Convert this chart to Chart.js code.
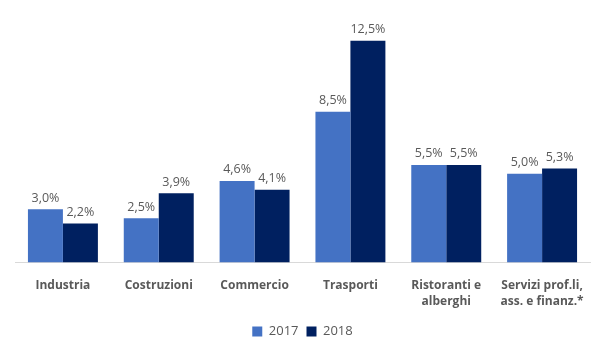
<!DOCTYPE html>
<html><head><meta charset="utf-8">
<script src="https://cdn.jsdelivr.net/npm/chart.js@4/dist/chart.umd.min.js"></script>
<style>html,body{margin:0;padding:0;background:#fff}#wrap{width:605px;height:353px}</style>
</head><body><div id="wrap"><canvas id="c" width="605" height="353"></canvas></div>
<script>
const categories = [["Industria"],["Costruzioni"],["Commercio"],["Trasporti"],["Ristoranti e","alberghi"],["Servizi prof.li,","ass. e finanz.*"]];
const seriesNames = ["2017","2018"];
const values2017 = [3.0, 2.5, 4.6, 8.5, 5.5, 5.0];
const values2018 = [2.2, 3.9, 4.1, 12.5, 5.5, 5.3];
const colors = ["#4472C4","#002060"];

const labelPlugin = {
  id:'vals',
  afterDatasetsDraw(chart){
    const ctx = chart.ctx;
    ctx.save();
    ctx.font = '12.5px "Open Sans", sans-serif';
    ctx.fillStyle = '#595959';
    ctx.textAlign = 'center';
    ctx.textBaseline = 'bottom';
    chart.data.datasets.forEach((ds,i)=>{
      chart.getDatasetMeta(i).data.forEach((bar,j)=>{
        ctx.fillText(ds.data[j].toFixed(1).replace('.',',')+'%', bar.x, bar.y-5);
      });
    });
    ctx.restore();
  }
};

new Chart(document.getElementById('c'),{
  type:'bar',
  data:{labels:categories,datasets:[
    {label:seriesNames[0],data:values2017,backgroundColor:colors[0]},
    {label:seriesNames[1],data:values2018,backgroundColor:colors[1]}
  ]},
  options:{
    responsive:false,animation:false,
    layout:{padding:{left:15,right:15,top:14,bottom:5}},
    datasets:{bar:{barPercentage:1,categoryPercentage:0.73}},
    scales:{
      y:{min:0,max:14,display:false},
      x:{grid:{display:false,drawTicks:false},border:{color:'#d9d9d9',width:1},
         afterFit:(s)=>{ s.height -= 8; },
         ticks:{color:'#595959',padding:15,font:{family:'"Open Sans", sans-serif',size:12,weight:'bold',lineHeight:1.35}}}
    },
    plugins:{
      legend:{position:'bottom',labels:{boxWidth:10,boxHeight:10,color:'#595959',padding:8,font:{family:'"Open Sans", sans-serif',size:13}}},
      tooltip:{enabled:false}
    }
  },
  plugins:[labelPlugin]
});
</script></body></html>
